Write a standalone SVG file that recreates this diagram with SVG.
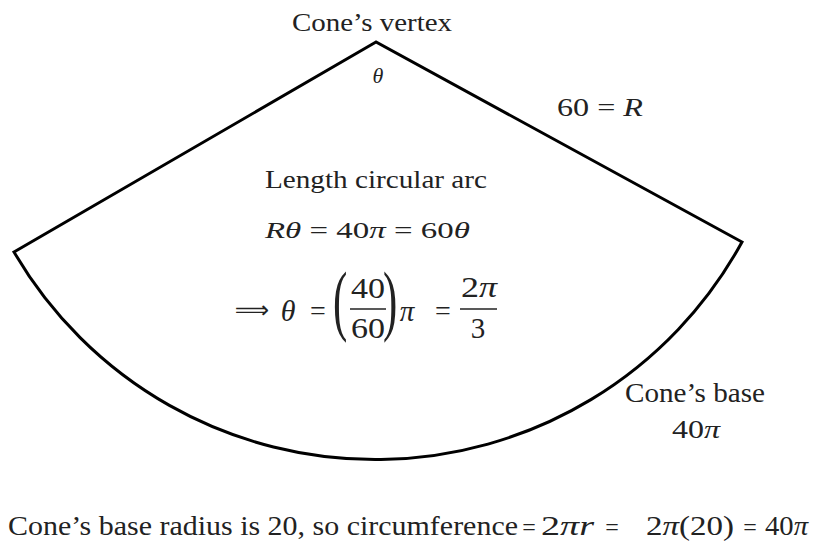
<svg xmlns="http://www.w3.org/2000/svg" width="815" height="547" viewBox="0 0 815 547">
<defs>
<style>
.i{font-style:italic;}
.bar{stroke:#222;stroke-width:1.6;}
</style>
</defs>
<rect width="815" height="547" fill="#fff"/>
<g id="sector">
<path d="M376 42 L14 252 A418 418 0 0 0 742 242 Z" fill="none" stroke="#000" stroke-width="3"/>
</g>
<g id="vertex-label">
<text font-family="Liberation Serif" fill="#222" x="292" y="31" font-size="26" textLength="160" lengthAdjust="spacingAndGlyphs">Cone’s vertex</text>
<text font-family="Liberation Serif" fill="#222" class="i" x="378" y="83" font-size="22" text-anchor="middle">θ</text>
</g>
<g id="radius-label">
<text font-family="Liberation Serif" fill="#222" x="557" y="116" font-size="26" textLength="86" lengthAdjust="spacingAndGlyphs">60 = <tspan class="i">R</tspan></text>
</g>
<g id="arc-text">
<text font-family="Liberation Serif" fill="#222" x="265" y="188" font-size="26" textLength="222" lengthAdjust="spacingAndGlyphs">Length circular arc</text>
<text font-family="Liberation Serif" fill="#222" x="265" y="238" font-size="23" textLength="205" lengthAdjust="spacingAndGlyphs"><tspan class="i">Rθ</tspan> = 40<tspan class="i">π</tspan> = 60<tspan class="i">θ</tspan></text>
</g>
<g id="theta-eq">
<text font-family="DejaVu Sans" fill="#222" x="252" y="318" font-size="24" text-anchor="middle">⟹</text>
<text font-family="Liberation Serif" fill="#222" class="i" x="288" y="321" font-size="30" text-anchor="middle">θ</text>
<text font-family="Liberation Serif" fill="#222" x="318" y="320" font-size="28" text-anchor="middle">=</text>
<text font-family="Liberation Serif" fill="#222" transform="translate(333,326) scale(0.55,1)" font-size="78">(</text>
<text font-family="Liberation Serif" fill="#222" x="351" y="298" font-size="29" textLength="34" lengthAdjust="spacingAndGlyphs">40</text>
<line class="bar" x1="350" y1="309" x2="386" y2="309"/>
<text font-family="Liberation Serif" fill="#222" x="351" y="338" font-size="29" textLength="34" lengthAdjust="spacingAndGlyphs">60</text>
<text font-family="Liberation Serif" fill="#222" transform="translate(383,326) scale(0.55,1)" font-size="78">)</text>
<text font-family="Liberation Serif" fill="#222" class="i" x="407" y="321" font-size="29" text-anchor="middle">π</text>
<text font-family="Liberation Serif" fill="#222" x="443" y="320" font-size="28" text-anchor="middle">=</text>
<text font-family="Liberation Serif" fill="#222" x="461" y="297" font-size="29" textLength="36" lengthAdjust="spacingAndGlyphs">2<tspan class="i">π</tspan></text>
<line class="bar" x1="460" y1="309" x2="497" y2="309"/>
<text font-family="Liberation Serif" fill="#222" x="478" y="338" font-size="29" text-anchor="middle">3</text>
</g>
<g id="base-label">
<text font-family="Liberation Serif" fill="#222" x="625" y="402" font-size="27" textLength="140" lengthAdjust="spacingAndGlyphs">Cone’s base</text>
<text font-family="Liberation Serif" fill="#222" x="672" y="438" font-size="26" textLength="48" lengthAdjust="spacingAndGlyphs">40<tspan class="i">π</tspan></text>
</g>
<g id="caption">
<text font-family="Liberation Serif" fill="#222" x="8" y="535" font-size="27" textLength="510" lengthAdjust="spacingAndGlyphs">Cone’s base radius is 20, so circumference</text>
<text font-family="Liberation Serif" fill="#222" x="529" y="535" font-size="24" text-anchor="middle">=</text>
<text font-family="Liberation Serif" fill="#222" x="541" y="535" font-size="27" textLength="53" lengthAdjust="spacingAndGlyphs">2<tspan class="i">πr</tspan></text>
<text font-family="Liberation Serif" fill="#222" x="612" y="535" font-size="24" text-anchor="middle">=</text>
<text font-family="Liberation Serif" fill="#222" x="646" y="535" font-size="27" textLength="88" lengthAdjust="spacingAndGlyphs">2<tspan class="i">π</tspan>(20)</text>
<text font-family="Liberation Serif" fill="#222" x="750" y="535" font-size="24" text-anchor="middle">=</text>
<text font-family="Liberation Serif" fill="#222" x="765" y="535" font-size="27" textLength="43" lengthAdjust="spacingAndGlyphs">40<tspan class="i">π</tspan></text>
</g>
</svg>
